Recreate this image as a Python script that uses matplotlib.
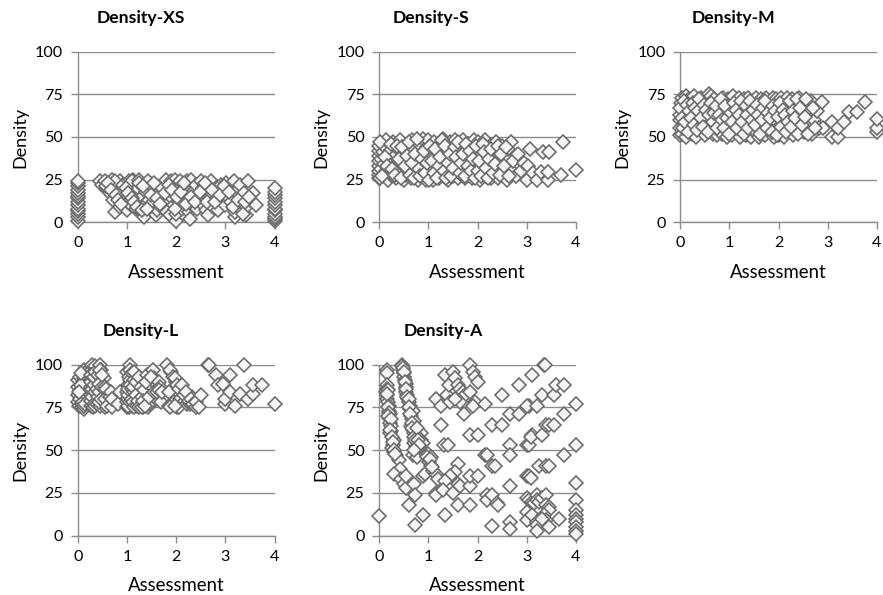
import matplotlib
matplotlib.use("Agg")
import matplotlib.pyplot as plt

W, H = 883, 595
plt.rcParams['font.family'] = ['Lato', 'DejaVu Sans']

XS_POINTS = [
 (0,1),(0,3),(0,5),(0,6.5),(0,8),(0,10),(0,12),(0,14),(0,15.5),(0,17),(0,19),(0,21),(0,23),(0,24),
 (4,1),(4,2),(4,3),(4,5),(4,7),(4,8),(4,10),(4,12),(4,14),(4,16),(4,18),(4,20),
 (.45,24),(.5,22),(.55,24),(.6,20),(.65,17),(.7,25),(.72,13),(.75,6),(.85,24),(.75,24),
 (.85,9),(.9,19),(.92,22),(.95,15),(1,7),(1.02,12),(1.05,24),(1.08,10),(1.12,25),(1.1,24),
 (1.15,18),(1.18,8),(1.22,20),(1.25,25),(1.28,6),(1.3,15),(1.35,3),(1.35,10),(1.38,18),(1.42,24),
 (1.45,13),(1.5,21),(1.52,12),(1.58,4),(1.62,7),(1.65,17),(1.7,9),(1.72,20),(1.75,12),(1.8,25),
 (1.82,6),(1.88,4),(1.9,24),(1.92,14),(1.95,10),(1.97,25),(2,1),(2,5),(2,17),(2,21),
 (2.05,12),(2.08,24),(2.12,8),(2.18,20),(2.2,14),(2.22,24),(2.25,6),(2.28,2),(2.3,25),(2.32,10),
 (2.35,18),(2.4,22),(2.42,8),(2.45,14),(2.5,24),(2.52,11),(2.55,20),(2.6,7),(2.62,17),(2.65,4),
 (2.67,14),(2.7,24),(2.75,9),(2.8,20),(2.82,14),(2.85,7),(2.9,22),(2.95,17),(3,10),(3.02,23),
 (3.05,15),(3.1,20),(3.12,12),(3.18,24),(3.2,3),(3.2,6),(3.22,18),(3.28,9),(3.3,22),(3.32,14),
 (3.38,17),(3.42,4),(3.42,9),(3.45,24),(3.5,13),(3.55,17),(3.62,10),
 (.57,21),(.62,23),(.68,19),(.78,16),(.82,13),(.88,11),(.98,20),(1.03,17),(1.1,14),(1.15,12),(1.2,9),(1.25,23),
 (1.3,7),(1.32,21),(1.4,8),(1.48,16),(1.55,23),(1.6,14),(1.68,11),(1.78,17),(1.85,22),(1.92,19),(1.98,8),(2.02,15),
 (2.1,18),(2.15,23),(2.2,11),(2.3,15),(2.38,12),(2.48,18),(2.58,23),(2.62,12),(2.72,19),(2.78,12),(2.88,16),(2.98,21),
 (3.08,18),(3.15,9),(3.25,13),(3.35,5),(3.4,12),(3.48,15),
]

S_POINTS = [
 (0,26),(0,28),(0,30),(0,33),(0,36),(0,39),(0,42),(0,45),(.03,26),(.05,31),(.05,37),(.08,41),(.1,28),(.1,34),
 (.12,44),(.15,30),(.15,48),(.18,25),(.2,36),(.22,42),(.25,28),(.28,47),(.3,33),(.32,39),(.35,26),(.38,43),
 (.4,30),(.42,48),(.45,35),(.5,25),(.5,41),(.55,28),(.58,45),(.6,32),(.62,38),(.65,26),(.68,48),(.7,43),
 (.75,30),(.78,36),(.8,25),(.82,46),(.85,40),(.88,28),(.9,49),(.92,33),(.95,25),(.98,44),(1,37),(1,48),
 (1.02,27),(1.05,31),(1.08,42),(1.1,25),(1.12,47),(1.15,35),(1.18,28),(1.2,40),(1.22,26),(1.25,45),(1.28,33),(1.3,49),
 (1.32,27),(1.35,38),(1.38,43),(1.4,25),(1.42,30),(1.45,47),(1.48,35),(1.5,27),(1.52,41),(1.55,48),(1.58,31),(1.6,26),
 (1.62,37),(1.65,44),(1.68,28),(1.7,48),(1.72,33),(1.75,26),(1.78,40),(1.8,46),(1.82,30),(1.85,36),(1.88,26),(1.9,43),
 (1.92,48),(1.95,32),(1.98,27),(2,38),(2.02,47),(2.05,25),(2.08,43),(2.1,30),(2.12,35),(2.15,48),(2.18,27),(2.2,40),
 (2.22,33),(2.25,45),(2.28,26),(2.3,37),(2.35,30),(2.38,47),(2.4,41),(2.42,26),(2.45,34),(2.5,45),(2.52,28),(2.55,38),
 (2.6,25),(2.62,43),(2.65,31),(2.68,47),(2.72,36),(2.78,27),(2.82,40),(2.88,30),(2.95,35),(3,25),(3.02,33),(3.07,43),
 (3.12,29),(3.2,25),(3.28,29.7),(3.32,41),(3.44,25),(3.44,29.7),(3.45,41.5),(3.7,27.7),(3.73,47),(4,30.7),
 (.02,47),(.07,27),(.13,38),(.17,33),(.24,46),(.27,31),(.33,28),(.36,45),(.41,37),(.44,26),(.47,44),(.52,33),
 (.56,39),(.6,47),(.63,28),(.67,35),(.72,26),(.74,40),(.77,49),(.81,31),(.84,27),(.87,37),(.91,42),(.94,29),
 (.97,35),(1.01,25),(1.04,45),(1.07,36),(1.11,29),(1.14,43),(1.17,26),(1.21,33),(1.24,38),(1.27,48),(1.31,30),(1.34,45),
 (1.37,26),(1.41,35),(1.44,40),(1.47,27),(1.51,32),(1.54,44),(1.57,38),(1.61,47),(1.64,29),(1.67,35),(1.71,40),(1.74,27),
 (1.77,46),(1.81,33),(1.84,42),(1.87,30),(1.91,37),(1.94,26),(1.97,45),(2.01,30),(2.04,36),(2.07,27),(2.11,46),(2.14,41),
 (2.17,32),(2.21,26),(2.24,37),(2.27,43),(2.32,29),(2.36,34),(2.41,45),(2.46,28),(2.48,40),(2.53,33),(2.57,44),(2.63,27),
]

M_POINTS = [
 (0,51),(0,55),(0,60),(0,63),(.03,70),(.05,73),(.05,52),(.08,58),(.1,66),(.12,74),(.12,50),(.15,62),
 (.18,72),(.2,56),(.22,68),(.25,52),(.28,74),(.3,64),(.32,50),(.35,71),(.38,59),(.4,54),(.42,73),(.45,66),
 (.5,51),(.52,60),(.55,72),(.58,75),(.6,56),(.62,74),(.65,67),(.68,52),(.7,72),(.72,62),(.75,51),(.78,58),
 (.8,69),(.85,52),(.88,73),(.9,64),(.95,50),(.98,72),(1,56),(1.02,68),(1.05,51),(1.08,74),(1.1,62),(1.12,53),
 (1.15,70),(1.18,58),(1.2,73),(1.22,50),(1.25,65),(1.28,55),(1.3,72),(1.32,60),(1.35,51),(1.38,73),(1.4,67),(1.42,56),
 (1.45,50),(1.48,71),(1.5,62),(1.52,53),(1.55,73),(1.58,58),(1.6,50),(1.62,68),(1.65,72),(1.68,55),(1.7,64),(1.72,51),
 (1.75,73),(1.78,59),(1.8,70),(1.82,53),(1.85,65),(1.88,73),(1.9,50),(1.92,60),(1.95,72),(1.98,55),(2,67),(2.02,51),
 (2.05,73),(2.08,62),(2.1,57),(2.12,50),(2.15,70),(2.18,73),(2.2,54),(2.22,65),(2.25,60),(2.28,72),(2.3,51),(2.35,68),
 (2.38,56),(2.42,73),(2.45,62),(2.5,70),(2.52,53),(2.58,66),(2.62,57),(2.65,71),(2.68,52),(2.72,60),(2.78,65),(2.82,55),
 (2.88,70.7),(2.9,55),(3.08,50),(3.09,59),(3.21,50),(3.21,55),(3.32,59),(3.43,64.5),(3.59,64.5),(3.76,70.7),
 (4,53),(4,55),(4,60.5),
 (.01,67),(.04,61),(.07,55),(.09,71),(.11,59),(.14,69),(.16,53),(.19,65),(.23,61),(.26,70),(.29,57),(.31,67),
 (.34,54),(.37,65),(.39,72),(.43,61),(.46,56),(.48,69),(.53,66),(.56,53),(.59,63),(.63,70),(.66,59),(.69,64),
 (.73,68),(.76,55),(.79,63),(.83,72),(.86,60),(.89,55),(.92,68),(.96,61),(.99,52),(1.03,64),(1.06,59),(1.09,70),
 (1.13,66),(1.16,55),(1.19,63),(1.23,71),(1.26,59),(1.29,52),(1.33,68),(1.36,63),(1.39,55),(1.43,71),(1.46,60),(1.49,66),
 (1.53,57),(1.56,69),(1.59,63),(1.63,52),(1.66,60),(1.69,67),(1.73,71),(1.76,55),(1.79,64),(1.83,61),(1.86,53),(1.89,68),
 (1.93,65),(1.96,51),(1.99,62),(2.03,70),(2.06,56),(2.09,66),(2.13,63),(2.16,53),(2.19,59),(2.23,71),(2.26,56),(2.29,65),
 (2.33,61),(2.37,72),(2.4,52),(2.44,67),(2.47,57),(2.54,62),(2.56,72),(2.6,52),(2.7,67),(2.75,55),
]

L_POINTS = [
 (0,78),(0,82),(0,87),(0,91),(.02,76),(.05,80),(.05,85),(.05,93),(.08,75),(.08,77),(.08,83),(.1,88),
 (.1,96),(.12,79),(.12,74),(.12,92),(.12,86),(.12,97),(.12,76),(.12,89),(.12,81),
 (.1,78),(.1,84),(.1,90),(.1,94),(.14,83),(.14,77),(.14,95),(.06,88),(.06,95),(.03,84),
 (.28,76),(.28,82),(.28,87),(.3,78),(.3,92),(.3,97),(.3,100),(.32,75),(.32,84),(.32,90),(.32,95),(.35,80),(.35,99),
 (.27,79),(.27,85),(.27,90),(.27,94),(.3,81),(.3,86),(.33,77),(.33,88),(.33,93),(.36,84),(.36,76),(.36,96),
 (.4,77),(.4,86),(.42,94),(.42,81),(.45,100),(.45,76),(.47,97),(.47,89),(.5,84),(.52,78),(.53,92),(.55,75),
 (.43,78),(.43,84),(.43,89),(.45,97),(.48,80),(.5,87),(.5,94),(.55,80),(.55,87),
 (.58,86),(.6,76),(.65,81),(.68,84),(.7,75),(.7,80),(.82,77),(.85,84),
 (1,75),(1,78),(1,84),(1,96),(1.02,88),(1.02,80),(1.05,75),(1.05,93),(1.07,100),(1.07,91),(1.08,76),(1.08,84),
 (1.03,76),(1.03,82),(1.03,86),(1.06,78),(1.06,88),(1.06,97),(1.1,80),(1.1,86),(1.1,95),(1.14,76),(1.14,84),(1.14,91),
 (1.12,78),(1.12,87),(1.15,96),(1.15,75),(1.18,82),(1.18,90),(1.2,76),(1.22,79),(1.25,93),(1.25,75),(1.28,87),(1.3,81),
 (1.32,75),(1.35,85),(1.38,79),(1.4,94),(1.42,75),(1.45,77),(1.47,88),(1.5,82),(1.52,97),(1.55,92),(1.58,80),(1.6,88),
 (1.3,75),(1.33,79),(1.36,76),(1.39,90),(1.45,81),(1.48,93),(1.55,84),(1.62,84),(1.65,90),(1.68,87),
 (1.65,85),(1.7,78),(1.72,84),(1.82,100),(1.85,76),(1.85,84),(1.9,96),(1.92,77),(1.95,78),(2,90),(2.02,75),(2.05,75),
 (1.88,97),(1.93,93),(1.97,92),(2.02,88),(2.08,80),(2.18,79),(2.22,77),(2.28,77),(2.33,81),(2.42,76),(1.88,75),(1.98,76),
 (2.05,86),(2.12,88),(2.15,82),(2.2,84),(2.25,79),(2.3,80),(2.35,77),(2.4,75),(2.4,78),(2.47,75),(2.5,82),
 (2.65,100),(2.67,100),(2.8,94),(2.85,88),(2.95,89),(3,77),(3,80),(3.1,84),(3.1,94),(3.2,76),(3.3,83),(3.37,100),
 (3.45,80),(3.55,83),(3.55,88),(3.75,88),(4,77),
]

A_POINTS = [
 (0,11.7),(.17,97),(.17,95),(.17,88),(.17,86),(.15,84),(.16,82),(.17,80),(.18,78),(.2,76),(.2,73),(.22,71),
 (.2,69),(.22,66),(.25,64),(.25,61),(.23,60),(.3,56),(.28,53),(.27,51),(.3,49),(.35,47),(.4,44),(.42,39),
 (.3,36),(.45,33),(.5,30),(.55,28),(.54,35),(.6,18),(.72,30),(.73,24),(.73,6),(.9,12),(.9,35),(.93,36),
 (.47,100),(.47,99),(.48,97),(.5,95),(.5,93),(.52,91),(.55,89),(.54,87),(.55,84),(.57,82),(.58,80),(.6,78),
 (.62,76),(.63,74),(.65,72),(.7,73),(.65,70),(.67,68),(.7,66),(.72,67),(.65,64),(.7,62),(.72,60),(.8,60),
 (.85,60),(.75,58),(.85,56),(.72,54),(.9,54),(.75,52),(.7,47),(.78,46),(.95,48),(1,48),(1.05,46),(1.02,43),
 (1.05,41),(1.1,38),(1.15,36),(1.2,33),(1.15,25),(1.15,24),
 (1.15,80),(1.25,76),(1.25,65),(1.32,53),(1.4,53),(1.35,94),(1.38,82),(1.45,78),(1.42,88),(1.5,96),(1.55,92),(1.6,88),
 (1.65,86),(1.7,84),(1.75,82),(1.72,71),(1.65,78),(1.55,80),(1.85,100),(1.9,96),(1.95,93),(2,90),(1.85,84),(1.95,78),
 (1.9,76),(2.15,77),(1.85,59),(2,59),(1.6,42),(1.55,37),(1.45,35),(1.35,32),(1.3,27),(1.5,25),(1.6,30),(1.65,29),
 (1.85,29),(1.85,35),(2,35),(1.6,18),(1.85,18),(1.33,12),(2.15,47),(2.2,47),(2.3,65),(2.3,41),(2.35,41),(2.2,24),
 (2.2,21),(2.3,24),(2.4,19),(2.42,18),(2.3,5.5),(2.5,82),(2.5,65),(2.67,71),(2.67,53),(2.67,47),(2.67,29),(2.67,8),
 (2.67,4),(2.85,88),(2.85,71),(3,53),(3.05,53),(3,35),(3.05,35),(3.08,34),(3.05,76),(3,76),(3.1,94),(3.1,59),
 (3.08,58),(3.2,76),(3.3,82),(3.35,100),(3.37,100),(3.3,59),(3.25,41),(3.4,65),(3.45,65),(3.4,41),(3.45,41),(3.55,82),
 (3.55,65),(3.6,88),(3.75,88),(3.75,71),(3.75,47),(3.65,10),(4,77),(4,53),(4,31),(4,21),(4,15),(4,12),
 (4,10),(4,8),(4,5),(4,3),(4,1),
 (3,22),(3.05,21),(3.1,20),(3.15,19),(3.2,24),(3.2,21),(3.25,20),(3.3,22),(3.4,24),(3.4,18),(3.45,17),(3.45,15),
 (3,14),(3,9),(3.1,12),(3.2,8),(3.2,6),(3.2,3),(3.35,12),(3.4,9),(3.45,5),(3.3,10),
 (.18,85),(.17,83),(.18,75),(.21,72),(.19,70),(.24,68),(.23,62),(.26,58),(.29,55),(.3,50),(.33,48),
 (.49,98),(.5,96),(.53,90),(.55,86),(.56,81),(.6,80),(.6,75),(.63,71),(.66,66),(.68,63),(.72,58),(.74,56),
 (.78,63),(.8,56),(.82,53),(.72,50),(.98,46),(1.03,45),(1.08,40),
]

TITLES = ["Density-XS", "Density-S", "Density-M", "Density-L", "Density-A"]
SERIES = [XS_POINTS, S_POINTS, M_POINTS, L_POINTS, A_POINTS]
X_TICKS = [0, 1, 2, 3, 4]
Y_TICKS = [0, 25, 50, 75, 100]
# axes box: left, right, y-top (100), y-bottom (0) in px; title centre px
BOXES = [(77.7, 274.7, 51.7, 222.3, 141), (379, 576, 51.7, 222.3, 431), (680, 877, 51.7, 222.3, 733),
         (77.7, 274.7, 364.7, 535.7, 141), (379, 576, 364.7, 535.7, 443)]
GREY = "#8C8C8C"
fig = plt.figure(figsize=(W/100, H/100), dpi=100, facecolor="white")
for title, pts, (l, r, t, b, tc) in zip(TITLES, SERIES, BOXES):
    ax = fig.add_axes([l/W, 1-b/H, (r-l)/W, (b-t)/H])
    ax.set_xlim(0, 4); ax.set_ylim(0, 100)
    ax.set_xticks(X_TICKS); ax.set_yticks(Y_TICKS)
    ax.yaxis.grid(True, color=GREY, lw=1); ax.set_axisbelow(True)
    for s in ("top", "right"):
        ax.spines[s].set_visible(False)
    for s in ("left", "bottom"):
        ax.spines[s].set_color(GREY); ax.spines[s].set_linewidth(1)
    ax.tick_params(axis="both", color=GREY, length=5, width=1, labelsize=11.6, labelcolor="black")
    ax.tick_params(axis="x", pad=5)
    ax.tick_params(axis="y", pad=5.5)
    xs = [p[0] for p in pts]; ys = [p[1] for p in pts]
    ax.plot(xs, ys, ls="none", marker="D", ms=6.8, mfc="#F4F4F4", mec="#6A6A6A", mew=1.15, clip_on=False, zorder=3)
    ax.set_xlabel("Assessment", fontsize=13.4, labelpad=10)
    ax.set_ylabel("Density", fontsize=13, labelpad=5)
    fig.text(tc/W, 1-(t-33.5)/H, title, fontsize=12.6, fontweight="bold", ha="center", va="center")
fig.savefig("out.png", dpi=100)
